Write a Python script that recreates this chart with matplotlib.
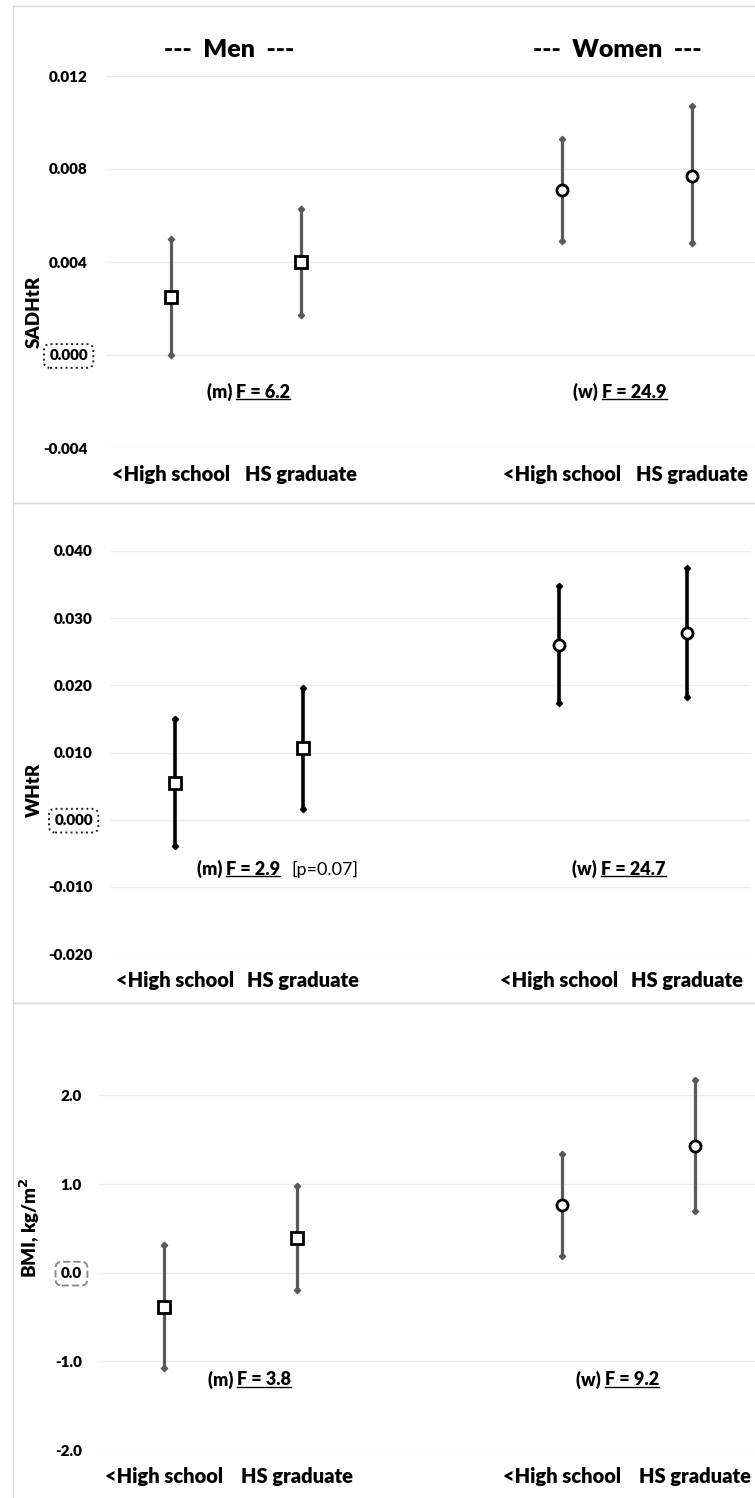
import numpy as np
import matplotlib
matplotlib.use("Agg")
import matplotlib.pyplot as plt
from matplotlib.patches import Rectangle
from matplotlib.lines import Line2D
from matplotlib.ticker import FormatStrFormatter

plt.rcParams['font.family'] = ['Lato', 'DejaVu Sans']
plt.rcParams['font.weight'] = 'heavy'

# categories: men (0, 1), gap at 2, women (3, 4)
x_pos = [0, 1, 3, 4]
categories = ['<High school', 'HS graduate', '<High school', 'HS graduate']
marker_kind = ['s', 's', 'o', 'o']

sadhtr_mean = [0.0025, 0.0040, 0.0071, 0.0077]
sadhtr_low = [0.0000, 0.0017, 0.0049, 0.0048]
sadhtr_high = [0.0050, 0.0063, 0.0093, 0.0107]

whtr_mean = [0.0055, 0.0107, 0.0260, 0.0278]
whtr_low = [-0.0039, 0.0016, 0.0174, 0.0183]
whtr_high = [0.0150, 0.0196, 0.0348, 0.0375]

bmi_mean = [-0.39, 0.39, 0.76, 1.43]
bmi_low = [-1.07, -0.20, 0.19, 0.70]
bmi_high = [0.31, 0.98, 1.34, 2.17]

sadhtr_ticks = [-0.004, 0.000, 0.004, 0.008, 0.012]
whtr_ticks = [-0.020, -0.010, 0.000, 0.010, 0.020, 0.030, 0.040]
bmi_ticks = [-2.0, -1.0, 0.0, 1.0, 2.0]

W, H = 755, 1498
fig = plt.figure(figsize=(W / 100, H / 100), dpi=100)


def px_axes(x0, y0, x1, y1):
    return fig.add_axes([x0 / W, 1 - y1 / H, (x1 - x0) / W, (y1 - y0) / H])


# light panel borders
for top, bottom in [(6, 503), (503, 1003), (1003, 1520)]:
    fig.patches.append(Rectangle((13 / W, 1 - bottom / H), 800 / W, (bottom - top) / H,
                                 transform=fig.transFigure, fill=False,
                                 ec='#d9d9d9', lw=1.0))

panels = [
    dict(rect=(106, 76, 757, 448), mean=sadhtr_mean, low=sadhtr_low, high=sadhtr_high,
         ticks=sadhtr_ticks, ylim=(-0.004, 0.012), fmt='%.3f', color='#595959', lw=2.3,
         ypad=13, ylabel='SADHtR', ylab_xy=(34, 312), zero='0.000', zero_ls=':',
         zero_ec='#222222',
         notes=[(0.50, -0.0016, '(m) ', 'F = 6.2'), (3.31, -0.0016, '(w) ', 'F = 24.9')],
         extra=None),
    dict(rect=(111, 551, 751, 954), mean=whtr_mean, low=whtr_low, high=whtr_high,
         ticks=whtr_ticks, ylim=(-0.020, 0.040), fmt='%.3f', color='black', lw=2.6,
         ypad=13, ylabel='WHtR', ylab_xy=(34, 790), zero='0.000', zero_ls=':',
         zero_ec='#222222',
         notes=[(0.40, -0.0074, '(m) ', 'F = 2.9'), (3.33, -0.0074, '(w) ', 'F = 24.7')],
         extra=(0.91, -0.0074, '[p=0.07]')),
    dict(rect=(98, 1051, 761, 1450), mean=bmi_mean, low=bmi_low, high=bmi_high,
         ticks=bmi_ticks, ylim=(-2.0, 2.5), fmt='%.1f', color='#595959', lw=2.3,
         ypad=11.5, ylabel='BMI, kg/m$^\\mathbf{2}$', ylab_xy=(30, 1228), zero='0.0',
         zero_ls='--', zero_ec='#8c8c8c',
         notes=[(0.55, -1.21, '(m) ', 'F = 3.8'), (3.32, -1.21, '(w) ', 'F = 9.2')],
         extra=None),
]

underline_texts = []
zero_boxes = []
for p in panels:
    ax = px_axes(*p['rect'])
    ax.set_xlim(-0.5, 4.5)
    ax.set_ylim(*p['ylim'])
    ax.set_yticks(p['ticks'])
    ax.yaxis.set_major_formatter(FormatStrFormatter(p['fmt']))
    ax.set_xticks(x_pos)
    ax.set_xticklabels(categories)
    ax.tick_params(axis='both', length=0)
    ax.tick_params(axis='y', pad=p['ypad'], labelsize=11)
    ax.tick_params(axis='x', pad=12, labelsize=14.5)
    for s in ax.spines.values():
        s.set_visible(False)
    ax.grid(axis='y', color='#ececec', lw=1.0)
    ax.set_axisbelow(True)

    for xi, m, lo, hi, mk in zip(x_pos, p['mean'], p['low'], p['high'], marker_kind):
        ax.plot([xi, xi], [lo, hi], color=p['color'], lw=p['lw'], zorder=2,
                solid_capstyle='butt')
        ax.plot([xi, xi], [lo, hi], ls='none', marker='D', ms=3.2, color=p['color'],
                zorder=2)
        ax.plot([xi], [m], marker=mk, ms=8.5 if mk == 's' else 8, mfc='white',
                mec='black', mew=2.0, ls='none', zorder=3)

    for nx, ny, pre, und in p['notes']:
        ax.text(nx, ny, pre, ha='right', va='center', fontsize=13)
        t = ax.text(nx, ny, und, ha='left', va='center', fontsize=13)
        underline_texts.append(t)
    if p['extra'] is not None:
        ex, ey, et = p['extra']
        ax.text(ex, ey, et, ha='left', va='center', fontsize=13, fontweight='normal')

    fig.text(p['ylab_xy'][0] / W, 1 - p['ylab_xy'][1] / H, p['ylabel'], rotation=90,
             ha='center', va='center', fontsize=13.5)
    zero_boxes.append((ax, p['zero'], p['zero_ls'], p['zero_ec']))

fig.text(229 / W, 1 - 50 / H, '---  Men  ---', ha='center', va='center', fontsize=18)
fig.text(617 / W, 1 - 50 / H, '---  Women  ---', ha='center', va='center', fontsize=18)

fig.canvas.draw()
renderer = fig.canvas.get_renderer()

for ax, ztxt, zls, zec in zero_boxes:
    for lab in ax.get_yticklabels():
        if lab.get_text() == ztxt:
            lab.set_bbox(dict(boxstyle='round,pad=0.35,rounding_size=0.4', fc='none',
                              ec=zec, ls=zls, lw=1.4))

for t in underline_texts:
    bb = t.get_window_extent(renderer)
    y = bb.y0 + 1.5
    fig.lines.append(Line2D([bb.x0 / W, bb.x1 / W], [y / H, y / H],
                            transform=fig.transFigure, color='black', lw=1.0))

fig.savefig('out.png', dpi=100)
